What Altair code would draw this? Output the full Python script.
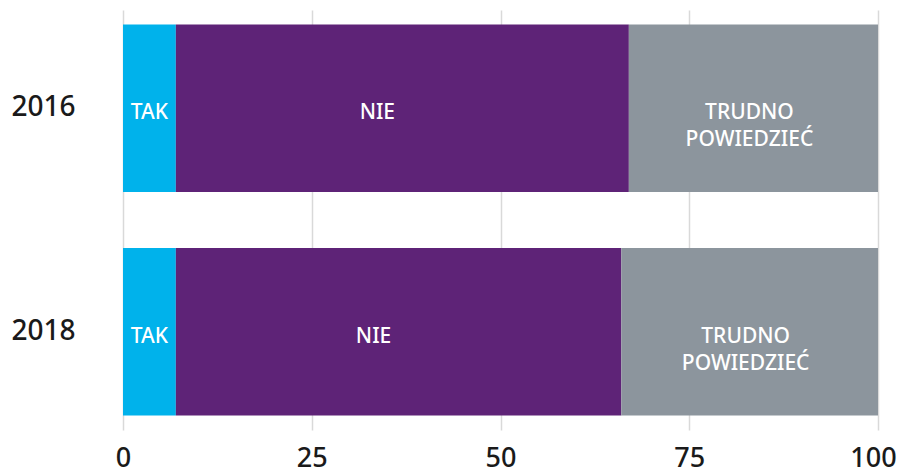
import altair as alt
import pandas as pd

years = ["2016", "2018"]
categories = ["TAK", "NIE", "TRUDNO\nPOWIEDZIEĆ"]
values_2016 = [7, 60, 33]
values_2018 = [7, 59, 34]
colors = ["#00b2eb", "#5e2377", "#8c959d"]
x_ticks = [0, 25, 50, 75, 100]

rows = []
for year, vals in zip(years, [values_2016, values_2018]):
    for i, (cat, v) in enumerate(zip(categories, vals)):
        rows.append({"year": year, "cat": cat, "value": v, "order": i})
df = pd.DataFrame(rows)

FONT = "Noto Sans"

base = alt.Chart(df).transform_stack(
    stack="value", groupby=["year"], as_=["start", "end"], sort=[alt.SortField("order")]
).transform_calculate(mid="(datum.start + datum.end) / 2")

y_enc = alt.Y(
    "year:N",
    sort=years,
    scale=alt.Scale(paddingInner=0.25, paddingOuter=0.065),
    axis=alt.Axis(
        title=None, ticks=False, domain=False, labelFontSize=28, labelColor="#1a1a1a",
        labelFont=FONT, labelPadding=48, labelFontWeight=500,
    ),
)

bars = base.mark_bar().encode(
    x=alt.X(
        "start:Q",
        scale=alt.Scale(domain=[0, 100], nice=False),
        axis=alt.Axis(
            values=x_ticks, title=None, ticks=False, domain=False, labelFontSize=27,
            labelColor="#1a1a1a", labelFont=FONT, labelPadding=15, grid=True,
            gridColor="#d9d9d9", gridWidth=1.5, labelFlush=False, labelFontWeight=500,
            labelOffset=alt.ExprRef("datum.value == 100 ? -5 : 0"),
        ),
    ),
    x2="end:Q",
    y=y_enc,
    color=alt.Color("cat:N", scale=alt.Scale(domain=categories, range=colors), legend=None),
)


def label_layer(cat, dx):
    return base.transform_filter(alt.datum.cat == cat).mark_text(
        color="white", fontSize=21, font=FONT, lineBreak="\n", lineHeight=27,
        fontWeight=500, dx=dx, dy=5,
    ).encode(
        x=alt.X("mid:Q"),
        y=alt.Y("year:N", sort=years),
        text="cat:N",
    )


labels = [label_layer(categories[0], 0), label_layer(categories[1], -25),
          label_layer(categories[2], -4)]

chart = alt.layer(bars, *labels).properties(
    width=755, height=420,
    autosize=alt.AutoSizeParams(type="none"),
    padding={"left": 115, "top": 2, "right": 19, "bottom": 46},
).configure_view(stroke=None)

chart.save("out.html", embed_options={"renderer": "svg", "actions": False})
